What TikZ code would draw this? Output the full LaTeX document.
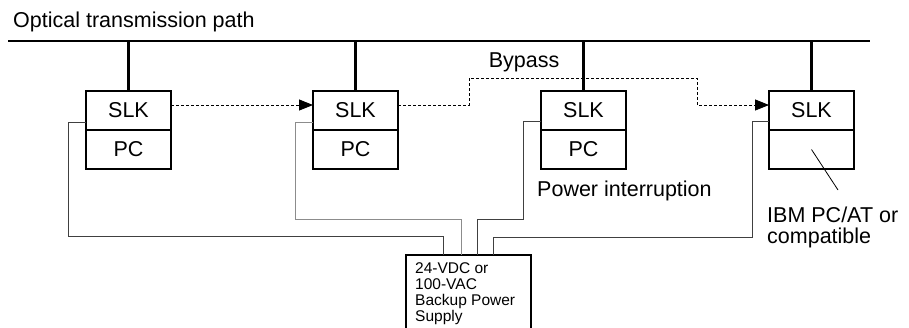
\documentclass[tikz,border=0pt]{standalone}
\usepackage{fontspec}
\setmainfont{Liberation Sans}
\usetikzlibrary{arrows.meta, positioning}

\begin{document}
\begin{tikzpicture}[
    x=1pt, y=-1pt,
    node distance=0pt and 143pt,
    unit/.style={rectangle, draw, line width=2.2pt, minimum width=85pt, minimum height=39pt, inner sep=0pt, outer sep=0pt, font=\fontsize{21.5}{24}\selectfont},
    bus/.style={line width=2.2pt},
    wire/.style={line width=0.8pt, draw=black!75},
    bypass/.style={dash pattern=on 3pt off 2pt, line width=0.8pt, -{Triangle[length=14pt, width=11pt]}},
    lbl/.style={inner sep=0pt, font=\fontsize{21.5}{19}\selectfont}
]
\useasboundingbox (0,0) rectangle (909,327);
\clip (0,0) rectangle (909,327);

% Optical bus
\coordinate (busL) at (8,41);
\coordinate (busR) at (870,41);
\draw[bus] (busL) -- (busR);
\node[lbl, anchor=base west] (title) at (13,27.5) {Optical transmission path};

% Stations
\node[unit] (slk1) at (128.5,110.5) {SLK};
\node[unit, below=of slk1] (pc1) {PC};
\node[unit, right=142pt of slk1] (slk2) {SLK};
\node[unit, below=of slk2] (pc2) {PC};
\node[unit, right=of slk2] (slk3) {SLK};
\node[unit, below=of slk3] (pc3) {PC};
\node[unit, right=of slk3] (slk4) {SLK};
\node[unit, below=of slk4] (pc4) {};

\foreach \n in {1,...,4}
    \draw[bus] (slk\n.north) -- (slk\n.north |- busL);

% Bypass
\coordinate (byA) at (469,78);
\coordinate (byB) at (697,78);
\draw[bypass] ([yshift=5.5pt]slk1.east) -- ([yshift=5.5pt]slk2.west);
\draw[bypass] ([yshift=5.5pt]slk2.east) -| (byA) -- (byB) |- ([yshift=5.5pt]slk4.west);
\node[lbl] (bypasslbl) at (524,62) {Bypass};

% Labels
\node[lbl, anchor=base west] (pwr) at (537,196) {Power interruption};
\node[lbl, anchor=north west, align=left] (ibm) at (767,207) {IBM PC/AT or\\[2pt]compatible};
\coordinate (ibmtip) at (838,190);
\draw[line width=0.8pt] (pc4.center) -- (ibmtip);

% Backup power supply
\node[draw, line width=2.2pt, anchor=north west, minimum width=125pt, minimum height=100pt, outer sep=0pt] (supply) at (406,255) {};
\node[anchor=north west, align=left, inner sep=0pt, font=\fontsize{15.5}{16}\selectfont] (supplytxt) at ([shift={(9pt,-7pt)}]supply.north west) {24-VDC or\\100-VAC\\Backup Power\\Supply};

\coordinate (in1) at ([xshift=37pt]supply.north west);
\coordinate (in2) at ([xshift=55pt]supply.north west);
\coordinate (in3) at ([xshift=71pt]supply.north west);
\coordinate (in4) at ([xshift=87pt]supply.north west);

% Power wires
\draw[wire] ([yshift=-11.5pt]slk1.west) -- ++(-18,0) |- ([yshift=19pt]in1) -- (in1);
\draw[wire, draw=black!45] ([yshift=-11.5pt]slk2.west) -- ++(-18,0) |- ([yshift=36pt]in2) -- (in2);
\draw[wire] ([yshift=-10.5pt]slk3.west) -- ++(-18,0) |- ([yshift=36pt]in3) -- (in3);
\draw[wire] ([yshift=-10.5pt]slk4.west) -- ++(-17,0) |- ([yshift=18pt]in4) -- (in4);

\end{tikzpicture}
\end{document}
